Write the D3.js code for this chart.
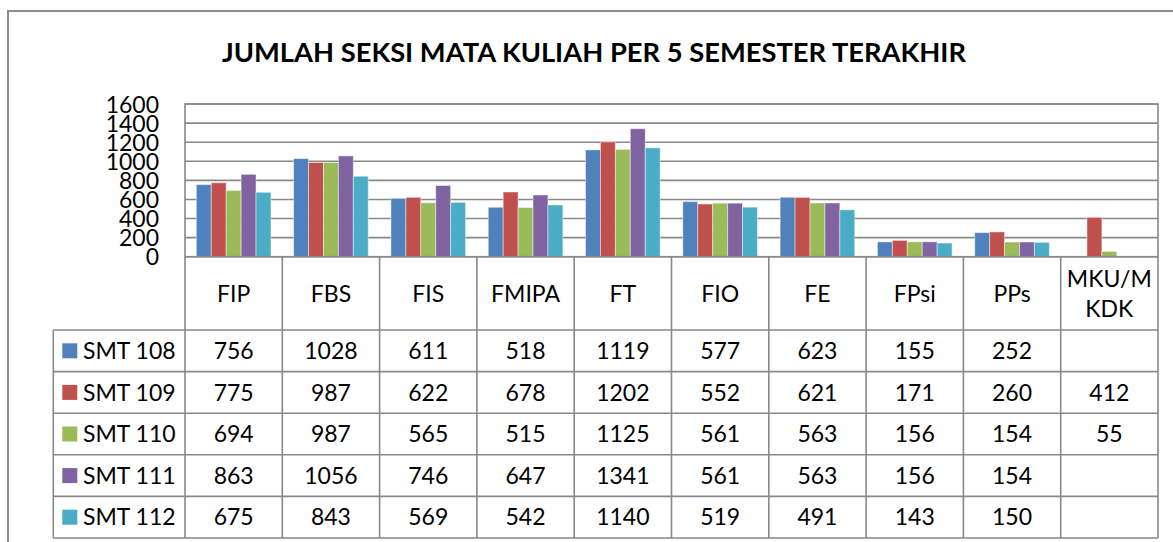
<!DOCTYPE html>
<html>
<head>
<meta charset="utf-8">
<script src="https://cdn.jsdelivr.net/npm/d3@7"></script>
<style>
  body { margin: 0; background: #fff; }
  text { font-family: Lato, "Liberation Sans", sans-serif; fill: #000; }
</style>
</head>
<body>
<div id="chart"></div>
<script>
// data
var categories = ["FIP", "FBS", "FIS", "FMIPA", "FT", "FIO", "FE", "FPsi", "PPs", "MKU/MKDK"];
var seriesNames = ["SMT 108", "SMT 109", "SMT 110", "SMT 111", "SMT 112"];
var smt108 = [756, 1028, 611, 518, 1119, 577, 623, 155, 252, null];
var smt109 = [775, 987, 622, 678, 1202, 552, 621, 171, 260, 412];
var smt110 = [694, 987, 565, 515, 1125, 561, 563, 156, 154, 55];
var smt111 = [863, 1056, 746, 647, 1341, 561, 563, 156, 154, null];
var smt112 = [675, 843, 569, 542, 1140, 519, 491, 143, 150, null];
var yTicks = [0, 200, 400, 600, 800, 1000, 1200, 1400, 1600];
var colors = ["#4F81BD", "#C0504D", "#9BBB59", "#8064A2", "#4BACC6"];

var seriesValues = [smt108, smt109, smt110, smt111, smt112];

var svgWidth = 1173, svgHeight = 542;
var plot = { left: 185, right: 1158, top: 104, bottom: 256.7 };
var tableLeft = 53.3, headerBottom = 330, tableBottom = 538;
var rowH = (tableBottom - headerBottom) / seriesNames.length;
var gridColor = "#898989";
var fs = 23;

var svg = d3.select("#chart").append("svg")
    .attr("width", svgWidth)
    .attr("height", svgHeight);

// outer chart frame (runs off the right and bottom)
svg.append("rect")
    .attr("x", 8).attr("y", 11)
    .attr("width", 1200).attr("height", 600)
    .attr("fill", "none")
    .attr("stroke", "#8c8c8c")
    .attr("stroke-width", 2);

// title
svg.append("text")
    .attr("x", 594).attr("y", 62)
    .attr("text-anchor", "middle")
    .attr("font-size", 27)
    .attr("font-weight", "bold")
    .attr("textLength", 744)
    .attr("lengthAdjust", "spacingAndGlyphs")
    .text("JUMLAH SEKSI MATA KULIAH PER 5 SEMESTER TERAKHIR");

// scales
var x0 = d3.scaleBand()
    .domain(categories)
    .range([plot.left, plot.right])
    .paddingInner(0.233)
    .paddingOuter(0.1165);

var x1 = d3.scaleBand()
    .domain(seriesNames)
    .range([0, x0.bandwidth()]);

var y = d3.scaleLinear()
    .domain([0, 1600])
    .range([plot.bottom, plot.top]);

// gridlines
svg.append("g").selectAll("line")
    .data(yTicks)
    .enter().append("line")
    .attr("x1", plot.left).attr("x2", plot.right)
    .attr("y1", d => y(d)).attr("y2", d => y(d))
    .attr("stroke", gridColor)
    .attr("stroke-width", 1.6);

// y axis
var leftAxis = d3.axisLeft(y)
    .tickValues(yTicks)
    .tickFormat(d3.format("d"))
    .tickSize(0)
    .tickPadding(26);
var yAxis = svg.append("g")
    .attr("transform", `translate(${plot.left}, 0)`)
    .call(leftAxis);
yAxis.select(".domain").remove();
yAxis.selectAll("text")
    .attr("font-size", fs)
    .attr("dy", "0.36em")
    .style("font-family", "Lato, 'Liberation Sans', sans-serif")
    .attr("fill", "#000");

// bars
var barData = [];
categories.forEach(function(c, i) {
  seriesNames.forEach(function(s, j) {
    if (seriesValues[j][i] != null) {
      barData.push({ cat: c, series: s, value: seriesValues[j][i], color: colors[j] });
    }
  });
});

svg.append("g").selectAll("rect")
    .data(barData)
    .enter().append("rect")
    .attr("x", d => x0(d.cat) + x1(d.series))
    .attr("y", d => y(d.value))
    .attr("width", x1.bandwidth())
    .attr("height", d => y(0) - y(d.value))
    .attr("fill", d => d.color)
    .attr("stroke", "rgba(255,255,255,0.45)")
    .attr("stroke-width", 1);

// plot frame
svg.append("rect")
    .attr("x", plot.left).attr("y", plot.top)
    .attr("width", plot.right - plot.left)
    .attr("height", plot.bottom - plot.top)
    .attr("fill", "none")
    .attr("stroke", gridColor)
    .attr("stroke-width", 1.6);

// data table
var table = svg.append("g");
var step = x0.step();
var colEdges = d3.range(categories.length + 1).map(i => plot.left + i * step);

table.selectAll(".vline")
    .data(colEdges)
    .enter().append("line")
    .attr("x1", d => d).attr("x2", d => d)
    .attr("y1", plot.bottom).attr("y2", tableBottom)
    .attr("stroke", gridColor)
    .attr("stroke-width", 1.6);

table.append("line")
    .attr("x1", tableLeft).attr("x2", tableLeft)
    .attr("y1", headerBottom).attr("y2", tableBottom)
    .attr("stroke", gridColor)
    .attr("stroke-width", 1.6);

var rowEdges = d3.range(seriesNames.length + 1).map(i => headerBottom + i * rowH);
table.selectAll(".hline")
    .data(rowEdges)
    .enter().append("line")
    .attr("x1", tableLeft).attr("x2", plot.right)
    .attr("y1", d => d).attr("y2", d => d)
    .attr("stroke", gridColor)
    .attr("stroke-width", 1.6);

// header labels (long ones wrap)
var headerMid = (plot.bottom + headerBottom) / 2;
categories.forEach(function(c, i) {
  var cx = plot.left + i * step + step / 2;
  var lines = c.length > 6 ? [c.slice(0, 5), c.slice(5)] : [c];
  var t = table.append("text")
      .attr("x", cx)
      .attr("text-anchor", "middle")
      .attr("font-size", fs);
  lines.forEach(function(l, k) {
    t.append("tspan")
        .attr("x", cx)
        .attr("y", headerMid + (k - (lines.length - 1) / 2) * 30)
        .attr("dy", "0.36em")
        .text(l);
  });
});

// rows
seriesNames.forEach(function(s, j) {
  var cy = headerBottom + j * rowH + rowH / 2;
  table.append("rect")
      .attr("x", 62.3).attr("y", cy - 7.5)
      .attr("width", 15).attr("height", 15)
      .attr("fill", colors[j]);
  table.append("text")
      .attr("x", 83).attr("y", cy)
      .attr("dy", "0.36em")
      .attr("font-size", fs)
      .text(s);
  seriesValues[j].forEach(function(v, i) {
    if (v == null) return;
    table.append("text")
        .attr("x", plot.left + i * step + step / 2)
        .attr("y", cy)
        .attr("dy", "0.36em")
        .attr("text-anchor", "middle")
        .attr("font-size", fs)
        .text(v);
  });
});
</script>
</body>
</html>
